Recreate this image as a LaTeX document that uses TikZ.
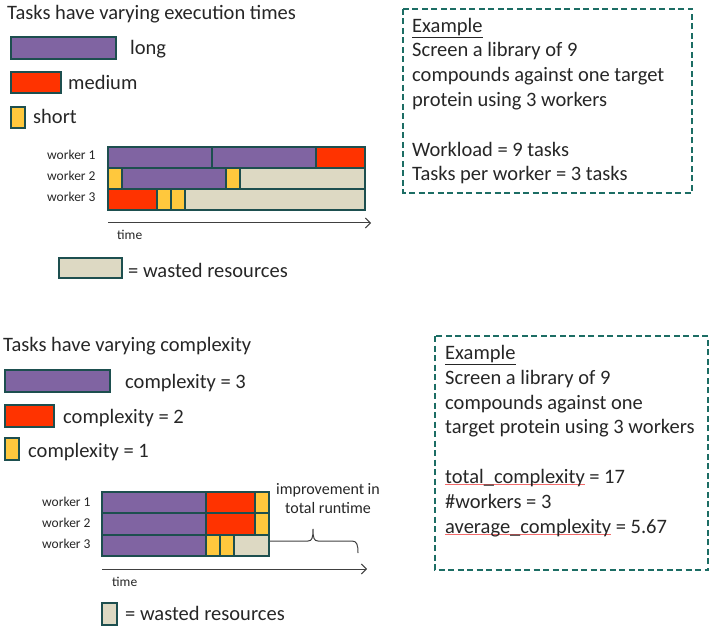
\documentclass[tikz,border=0pt]{standalone}
\usepackage{fontspec}
\setmainfont{Carlito}
\usetikzlibrary{arrows.meta}

\definecolor{taskpurple}{HTML}{8064A2}
\definecolor{taskred}{HTML}{FF3300}
\definecolor{taskyellow}{HTML}{FFC83D}
\definecolor{wastebeige}{HTML}{DDD9C3}
\definecolor{edgeteal}{HTML}{1D4F4F}
\definecolor{boxteal}{HTML}{1C6D64}
\definecolor{textgray}{HTML}{262626}
\definecolor{linegray}{HTML}{404040}
\definecolor{errpink}{HTML}{F26B6B}

\newcommand{\spellmark}[1]{\setbox0=\hbox{#1}\rlap{{\color{errpink}\rule[-2pt]{\wd0}{1pt}}}\box0\relax}

\begin{document}
\begin{tikzpicture}[x=1pt, y=-1pt,
  longtask/.style={fill=taskpurple, draw=edgeteal, line width=1.4pt},
  medtask/.style={fill=taskred, draw=edgeteal, line width=1.4pt},
  shorttask/.style={fill=taskyellow, draw=edgeteal, line width=1.4pt},
  wasted/.style={fill=wastebeige, draw=edgeteal, line width=1.4pt},
  frame/.style={draw=edgeteal, line width=2pt},
  exbox/.style={draw=boxteal, line width=2.2pt, dash pattern=on 6pt off 3.5pt},
  lbl/.style={anchor=base west, inner sep=0pt, text=textgray, font=\fontsize{20.5}{24.8}\selectfont},
  wlbl/.style={anchor=base west, inner sep=0pt, text=textgray, font=\fontsize{13.5}{16}\selectfont},
  timeline/.style={draw=linegray, line width=1pt, -{Straight Barb[length=5pt, width=10pt]}},
]
  \useasboundingbox (0,0) rectangle (714,628);

  % ---------- Varying execution times ----------
  \node[lbl] (title1) at (7,20) {Tasks have varying execution times};

  % Legend
  \filldraw[longtask] (11,37) rectangle (116,59);
  \node[lbl] (long) at (130,55) {long};
  \filldraw[medtask] (11,72) rectangle (61,93);
  \node[lbl] (medium) at (68,90) {medium};
  \filldraw[shorttask] (11,107) rectangle (25,128);
  \node[lbl] (short) at (33,124) {short};

  % Schedule
  \node[wlbl] (w1a) at (47,160) {worker 1};
  \node[wlbl] (w2a) at (47,181) {worker 2};
  \node[wlbl] (w3a) at (47,202) {worker 3};
  \filldraw[longtask] (108,147) rectangle (212,168);
  \filldraw[longtask] (212,147) rectangle (316,168);
  \filldraw[medtask] (316,147) rectangle (365,168);
  \filldraw[shorttask] (108,168) rectangle (122,189);
  \filldraw[longtask] (122,168) rectangle (226,189);
  \filldraw[shorttask] (226,168) rectangle (240,189);
  \filldraw[wasted] (240,168) rectangle (365,189);
  \filldraw[medtask] (108,189) rectangle (157,210);
  \filldraw[shorttask] (157,189) rectangle (171,210);
  \filldraw[shorttask] (171,189) rectangle (185,210);
  \filldraw[wasted] (185,189) rectangle (365,210);
  \draw[frame] (108,147) rectangle (365,210);

  % Time axis
  \coordinate (ta0) at (108,223);
  \coordinate (ta1) at (371,223);
  \draw[timeline] (ta0) -- (ta1);
  \node[wlbl] (timea) at (117,240) {time};

  \filldraw[wasted] (59,258) rectangle (122,278);
  \node[lbl] (wastea) at (128,277) {= wasted resources};

  % Example box (base anchor sits on the last line)
  \draw[exbox] (403,9) rectangle (692,193);
  \node[lbl, align=left] (exa) at (412,181) {\underline{Example}\\
    Screen a library of 9\\
    compounds against one target\\
    protein using 3 workers\\[24.8pt]
    Workload = 9 tasks\\
    Tasks per worker = 3 tasks};

  % ---------- Varying complexity ----------
  \node[lbl] (title2) at (3,351) {Tasks have varying complexity};

  % Legend
  \filldraw[longtask] (5,370) rectangle (110,392);
  \node[lbl] (cx3) at (125,388) {complexity = 3};
  \filldraw[medtask] (5,405) rectangle (54,427);
  \node[lbl] (cx2) at (63,423) {complexity = 2};
  \filldraw[shorttask] (5,438) rectangle (19,460);
  \node[lbl] (cx1) at (28,457) {complexity = 1};

  % Schedule
  \node[wlbl] (w1b) at (42,506) {worker 1};
  \node[wlbl] (w2b) at (42,527) {worker 2};
  \node[wlbl] (w3b) at (42,548) {worker 3};
  \filldraw[longtask] (102,492) rectangle (206,513);
  \filldraw[medtask] (206,492) rectangle (255,513);
  \filldraw[shorttask] (255,492) rectangle (269,513);
  \filldraw[longtask] (102,513) rectangle (206,535);
  \filldraw[medtask] (206,513) rectangle (255,535);
  \filldraw[shorttask] (255,513) rectangle (269,535);
  \filldraw[longtask] (102,535) rectangle (206,556);
  \filldraw[shorttask] (206,535) rectangle (220,556);
  \filldraw[shorttask] (220,535) rectangle (234,556);
  \filldraw[wasted] (234,535) rectangle (269,556);
  \draw[frame] (102,492) rectangle (269,556);

  % Brace
  \draw[linegray, line width=1pt] (270,541) -- (308,541)
    .. controls (312,541) and (313,538) .. (313,529)
    .. controls (313,538) and (314,541) .. (318,541) -- (352,541)
    .. controls (357,541) and (358,545) .. (358,553);
  \node[anchor=base, inner sep=0pt, text=textgray, align=center,
    font=\fontsize{16}{19}\selectfont] (gain) at (328,513) {improvement in\\ total runtime};

  % Time axis
  \coordinate (tb0) at (102,569);
  \coordinate (tb1) at (367,569);
  \draw[timeline] (tb0) -- (tb1);
  \node[wlbl] (timeb) at (112,586) {time};

  \filldraw[wasted] (102,603) rectangle (117,625);
  \node[lbl] (wasteb) at (125,620) {= wasted resources};

  % Example box
  \draw[exbox] (435,336) rectangle (708,570);
  \node[lbl, align=left] (exb) at (445,533) {\underline{Example}\\
    Screen a library of 9\\
    compounds against one\\
    target protein using 3 workers\\[24.8pt]
    \spellmark{total\_complexity} = 17\\
    \#workers = 3\\
    \spellmark{average\_complexity} = 5.67};
\end{tikzpicture}
\end{document}
